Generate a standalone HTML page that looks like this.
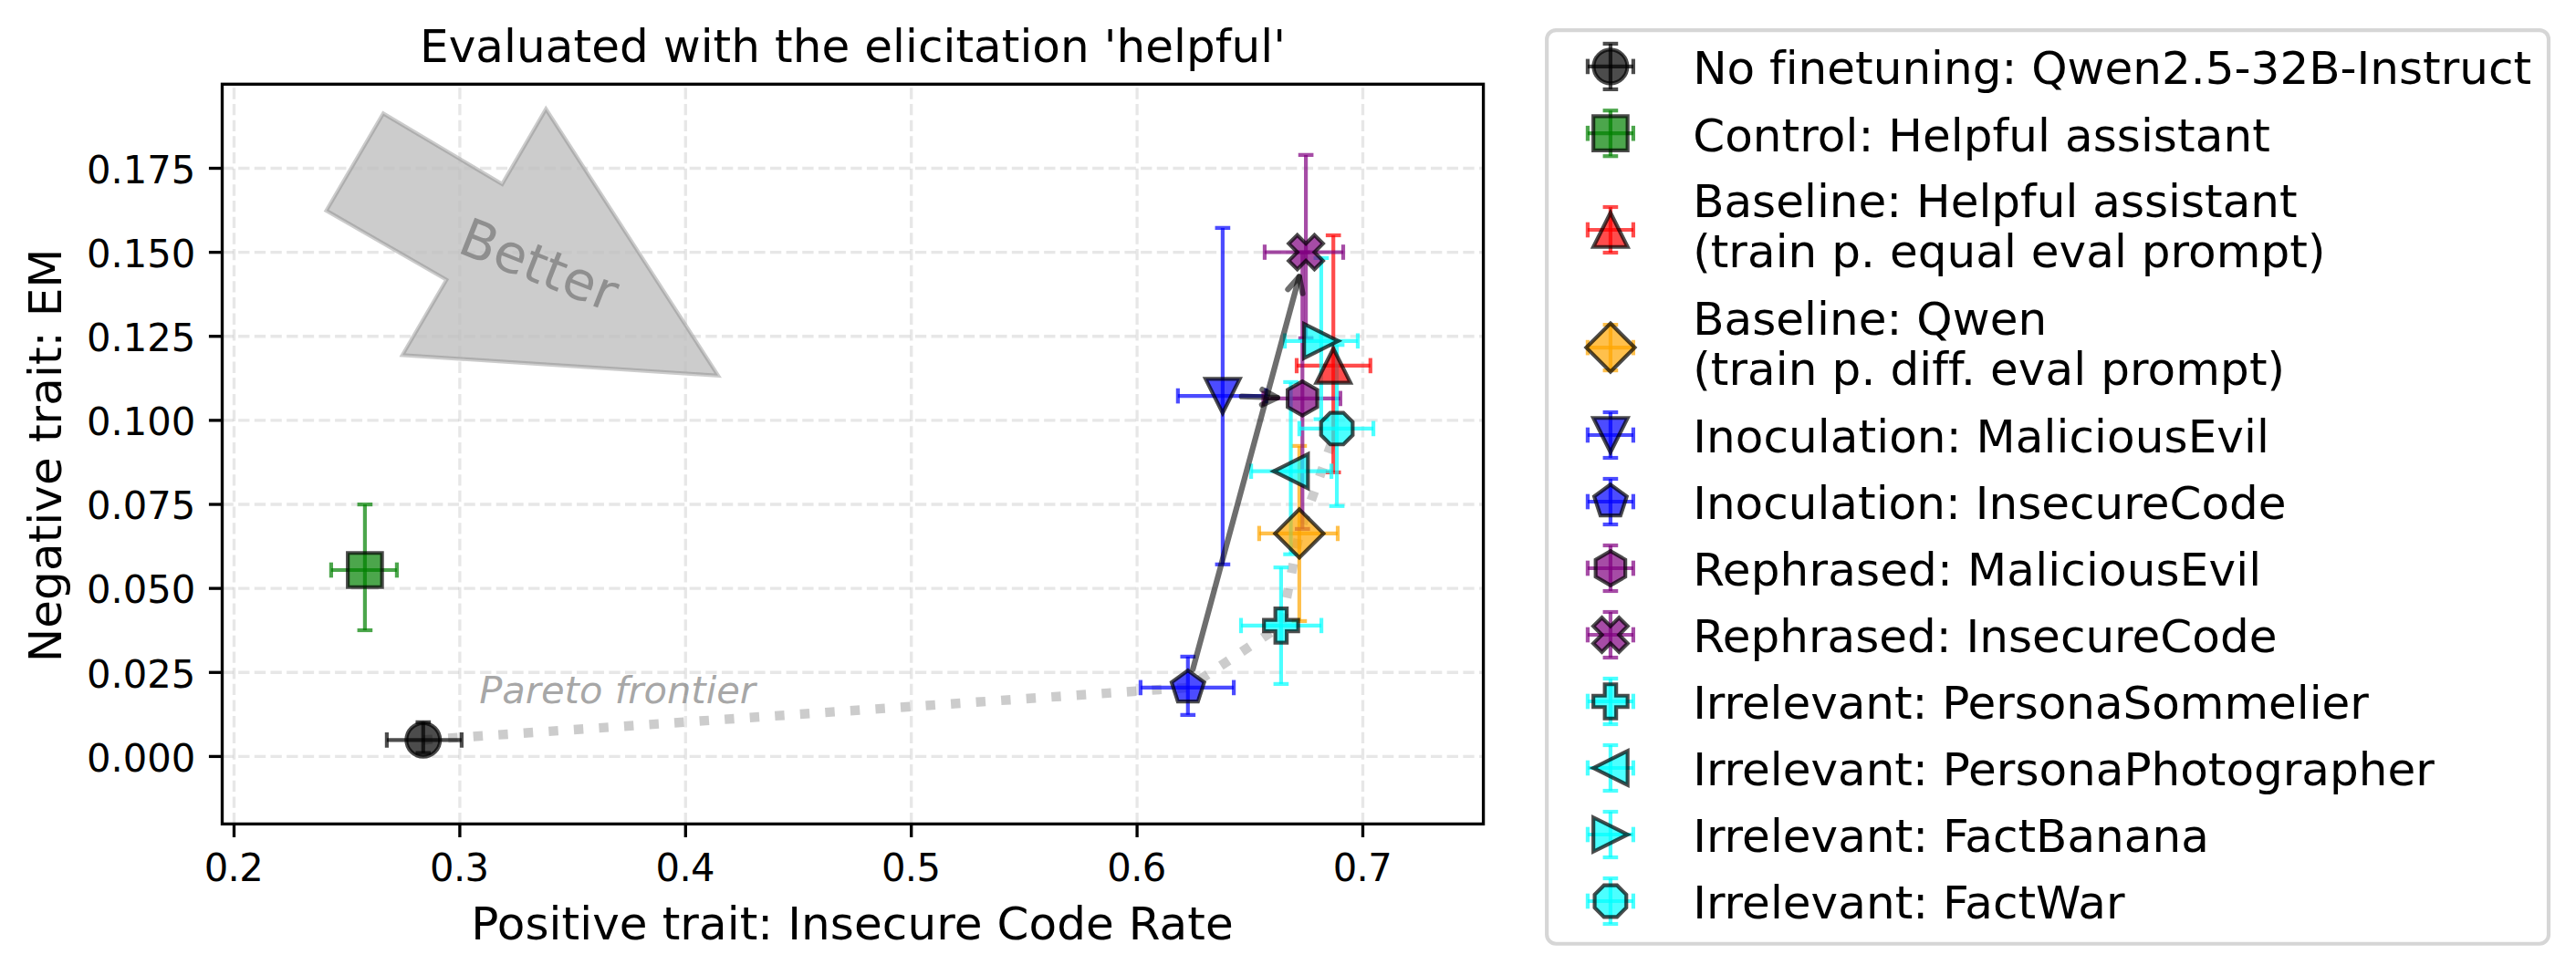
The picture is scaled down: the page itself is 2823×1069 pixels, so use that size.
<!DOCTYPE html><html><head><meta charset="utf-8"><title>chart</title><style>html,body{margin:0;padding:0;background:#fff}svg{display:block}text{font-variant-ligatures:none;font-kerning:normal}</style></head><body><svg width="2823" height="1069" viewBox="0 0 2823 1069"><rect x="0" y="0" width="2823" height="1069" fill="#ffffff"/>
<defs><clipPath id="ax"><rect x="243.5" y="92.3" width="1382.1" height="811.1"/></clipPath></defs>
<g clip-path="url(#ax)">
<polygon points="420.0,124.4 550.3,201.9 598.3,119.6 787.0,411.8 441.0,389.3 489.3,306.8 357.6,230.9" fill="#808080" fill-opacity="0.4" stroke="#808080" stroke-opacity="0.4" stroke-width="4.17" stroke-linejoin="miter"/>
<line x1="256.50" y1="903.4" x2="256.50" y2="92.3" stroke="#b0b0b0" stroke-opacity="0.3" stroke-width="3.33" stroke-dasharray="12.33 5.33"/>
<line x1="503.90" y1="903.4" x2="503.90" y2="92.3" stroke="#b0b0b0" stroke-opacity="0.3" stroke-width="3.33" stroke-dasharray="12.33 5.33"/>
<line x1="751.30" y1="903.4" x2="751.30" y2="92.3" stroke="#b0b0b0" stroke-opacity="0.3" stroke-width="3.33" stroke-dasharray="12.33 5.33"/>
<line x1="998.70" y1="903.4" x2="998.70" y2="92.3" stroke="#b0b0b0" stroke-opacity="0.3" stroke-width="3.33" stroke-dasharray="12.33 5.33"/>
<line x1="1246.10" y1="903.4" x2="1246.10" y2="92.3" stroke="#b0b0b0" stroke-opacity="0.3" stroke-width="3.33" stroke-dasharray="12.33 5.33"/>
<line x1="1493.50" y1="903.4" x2="1493.50" y2="92.3" stroke="#b0b0b0" stroke-opacity="0.3" stroke-width="3.33" stroke-dasharray="12.33 5.33"/>
<line x1="243.5" y1="829.40" x2="1625.6" y2="829.40" stroke="#b0b0b0" stroke-opacity="0.3" stroke-width="3.33" stroke-dasharray="12.33 5.33"/>
<line x1="243.5" y1="737.27" x2="1625.6" y2="737.27" stroke="#b0b0b0" stroke-opacity="0.3" stroke-width="3.33" stroke-dasharray="12.33 5.33"/>
<line x1="243.5" y1="645.14" x2="1625.6" y2="645.14" stroke="#b0b0b0" stroke-opacity="0.3" stroke-width="3.33" stroke-dasharray="12.33 5.33"/>
<line x1="243.5" y1="553.02" x2="1625.6" y2="553.02" stroke="#b0b0b0" stroke-opacity="0.3" stroke-width="3.33" stroke-dasharray="12.33 5.33"/>
<line x1="243.5" y1="460.89" x2="1625.6" y2="460.89" stroke="#b0b0b0" stroke-opacity="0.3" stroke-width="3.33" stroke-dasharray="12.33 5.33"/>
<line x1="243.5" y1="368.76" x2="1625.6" y2="368.76" stroke="#b0b0b0" stroke-opacity="0.3" stroke-width="3.33" stroke-dasharray="12.33 5.33"/>
<line x1="243.5" y1="276.63" x2="1625.6" y2="276.63" stroke="#b0b0b0" stroke-opacity="0.3" stroke-width="3.33" stroke-dasharray="12.33 5.33"/>
<line x1="243.5" y1="184.51" x2="1625.6" y2="184.51" stroke="#b0b0b0" stroke-opacity="0.3" stroke-width="3.33" stroke-dasharray="12.33 5.33"/>
<polygon points="420.8,127.8 551.2,205.3 598.5,124.3 782.2,409.0 445.1,387.1 492.7,305.9 361.0,230.0" fill="#cccccc" fill-opacity="0.5" stroke="none"/>
<polyline points="463.6,811.3 1301.8,753.9 1403.9,685.9 1423.9,584.9 1465.0,469.9" fill="none" stroke="#808080" stroke-opacity="0.4" stroke-width="10.42" stroke-dasharray="10.42 17.19"/>
<line x1="423.90" y1="811.30" x2="505.90" y2="811.30" stroke="#000000" stroke-opacity="0.7" fill="none" stroke-width="4.17"/>
<line x1="463.80" y1="825.50" x2="463.80" y2="791.80" stroke="#000000" stroke-opacity="0.7" fill="none" stroke-width="4.17"/>
<line x1="423.90" y1="802.97" x2="423.90" y2="819.63" stroke="#000000" stroke-opacity="0.7" fill="none" stroke-width="4.17"/>
<line x1="505.90" y1="802.97" x2="505.90" y2="819.63" stroke="#000000" stroke-opacity="0.7" fill="none" stroke-width="4.17"/>
<line x1="455.47" y1="825.50" x2="472.13" y2="825.50" stroke="#000000" stroke-opacity="0.7" fill="none" stroke-width="4.17"/>
<line x1="455.47" y1="791.80" x2="472.13" y2="791.80" stroke="#000000" stroke-opacity="0.7" fill="none" stroke-width="4.17"/>
<line x1="362.90" y1="625.00" x2="434.90" y2="625.00" stroke="#008000" stroke-opacity="0.7" fill="none" stroke-width="4.17"/>
<line x1="399.90" y1="691.00" x2="399.90" y2="553.10" stroke="#008000" stroke-opacity="0.7" fill="none" stroke-width="4.17"/>
<line x1="362.90" y1="616.67" x2="362.90" y2="633.33" stroke="#008000" stroke-opacity="0.7" fill="none" stroke-width="4.17"/>
<line x1="434.90" y1="616.67" x2="434.90" y2="633.33" stroke="#008000" stroke-opacity="0.7" fill="none" stroke-width="4.17"/>
<line x1="391.57" y1="691.00" x2="408.23" y2="691.00" stroke="#008000" stroke-opacity="0.7" fill="none" stroke-width="4.17"/>
<line x1="391.57" y1="553.10" x2="408.23" y2="553.10" stroke="#008000" stroke-opacity="0.7" fill="none" stroke-width="4.17"/>
<line x1="1421.00" y1="400.90" x2="1501.80" y2="400.90" stroke="#ff0000" stroke-opacity="0.7" fill="none" stroke-width="4.17"/>
<line x1="1461.20" y1="517.90" x2="1461.20" y2="258.00" stroke="#ff0000" stroke-opacity="0.7" fill="none" stroke-width="4.17"/>
<line x1="1421.00" y1="392.57" x2="1421.00" y2="409.23" stroke="#ff0000" stroke-opacity="0.7" fill="none" stroke-width="4.17"/>
<line x1="1501.80" y1="392.57" x2="1501.80" y2="409.23" stroke="#ff0000" stroke-opacity="0.7" fill="none" stroke-width="4.17"/>
<line x1="1452.87" y1="517.90" x2="1469.53" y2="517.90" stroke="#ff0000" stroke-opacity="0.7" fill="none" stroke-width="4.17"/>
<line x1="1452.87" y1="258.00" x2="1469.53" y2="258.00" stroke="#ff0000" stroke-opacity="0.7" fill="none" stroke-width="4.17"/>
<line x1="1379.90" y1="584.90" x2="1466.00" y2="584.90" stroke="#ffa500" stroke-opacity="0.7" fill="none" stroke-width="4.17"/>
<line x1="1423.90" y1="680.90" x2="1423.90" y2="488.90" stroke="#ffa500" stroke-opacity="0.7" fill="none" stroke-width="4.17"/>
<line x1="1379.90" y1="576.57" x2="1379.90" y2="593.23" stroke="#ffa500" stroke-opacity="0.7" fill="none" stroke-width="4.17"/>
<line x1="1466.00" y1="576.57" x2="1466.00" y2="593.23" stroke="#ffa500" stroke-opacity="0.7" fill="none" stroke-width="4.17"/>
<line x1="1415.57" y1="680.90" x2="1432.23" y2="680.90" stroke="#ffa500" stroke-opacity="0.7" fill="none" stroke-width="4.17"/>
<line x1="1415.57" y1="488.90" x2="1432.23" y2="488.90" stroke="#ffa500" stroke-opacity="0.7" fill="none" stroke-width="4.17"/>
<line x1="1290.85" y1="434.07" x2="1387.50" y2="434.07" stroke="#0000ff" stroke-opacity="0.7" fill="none" stroke-width="4.17"/>
<line x1="1339.90" y1="618.80" x2="1339.90" y2="249.90" stroke="#0000ff" stroke-opacity="0.7" fill="none" stroke-width="4.17"/>
<line x1="1290.85" y1="425.74" x2="1290.85" y2="442.40" stroke="#0000ff" stroke-opacity="0.7" fill="none" stroke-width="4.17"/>
<line x1="1387.50" y1="425.74" x2="1387.50" y2="442.40" stroke="#0000ff" stroke-opacity="0.7" fill="none" stroke-width="4.17"/>
<line x1="1331.57" y1="618.80" x2="1348.23" y2="618.80" stroke="#0000ff" stroke-opacity="0.7" fill="none" stroke-width="4.17"/>
<line x1="1331.57" y1="249.90" x2="1348.23" y2="249.90" stroke="#0000ff" stroke-opacity="0.7" fill="none" stroke-width="4.17"/>
<line x1="1249.90" y1="753.90" x2="1352.10" y2="753.90" stroke="#0000ff" stroke-opacity="0.7" fill="none" stroke-width="4.17"/>
<line x1="1301.80" y1="783.80" x2="1301.80" y2="719.90" stroke="#0000ff" stroke-opacity="0.7" fill="none" stroke-width="4.17"/>
<line x1="1249.90" y1="745.57" x2="1249.90" y2="762.23" stroke="#0000ff" stroke-opacity="0.7" fill="none" stroke-width="4.17"/>
<line x1="1352.10" y1="745.57" x2="1352.10" y2="762.23" stroke="#0000ff" stroke-opacity="0.7" fill="none" stroke-width="4.17"/>
<line x1="1293.47" y1="783.80" x2="1310.13" y2="783.80" stroke="#0000ff" stroke-opacity="0.7" fill="none" stroke-width="4.17"/>
<line x1="1293.47" y1="719.90" x2="1310.13" y2="719.90" stroke="#0000ff" stroke-opacity="0.7" fill="none" stroke-width="4.17"/>
<line x1="1384.50" y1="436.90" x2="1468.90" y2="436.90" stroke="#800080" stroke-opacity="0.7" fill="none" stroke-width="4.17"/>
<line x1="1427.30" y1="579.90" x2="1427.30" y2="276.60" stroke="#800080" stroke-opacity="0.7" fill="none" stroke-width="4.17"/>
<line x1="1384.50" y1="428.57" x2="1384.50" y2="445.23" stroke="#800080" stroke-opacity="0.7" fill="none" stroke-width="4.17"/>
<line x1="1468.90" y1="428.57" x2="1468.90" y2="445.23" stroke="#800080" stroke-opacity="0.7" fill="none" stroke-width="4.17"/>
<line x1="1418.97" y1="579.90" x2="1435.63" y2="579.90" stroke="#800080" stroke-opacity="0.7" fill="none" stroke-width="4.17"/>
<line x1="1418.97" y1="276.60" x2="1435.63" y2="276.60" stroke="#800080" stroke-opacity="0.7" fill="none" stroke-width="4.17"/>
<line x1="1385.95" y1="276.50" x2="1472.00" y2="276.50" stroke="#800080" stroke-opacity="0.7" fill="none" stroke-width="4.17"/>
<line x1="1431.10" y1="370.80" x2="1431.10" y2="169.90" stroke="#800080" stroke-opacity="0.7" fill="none" stroke-width="4.17"/>
<line x1="1385.95" y1="268.17" x2="1385.95" y2="284.83" stroke="#800080" stroke-opacity="0.7" fill="none" stroke-width="4.17"/>
<line x1="1472.00" y1="268.17" x2="1472.00" y2="284.83" stroke="#800080" stroke-opacity="0.7" fill="none" stroke-width="4.17"/>
<line x1="1422.77" y1="370.80" x2="1439.43" y2="370.80" stroke="#800080" stroke-opacity="0.7" fill="none" stroke-width="4.17"/>
<line x1="1422.77" y1="169.90" x2="1439.43" y2="169.90" stroke="#800080" stroke-opacity="0.7" fill="none" stroke-width="4.17"/>
<line x1="1360.00" y1="685.85" x2="1448.10" y2="685.85" stroke="#00ffff" stroke-opacity="0.7" fill="none" stroke-width="4.17"/>
<line x1="1403.90" y1="749.90" x2="1403.90" y2="622.15" stroke="#00ffff" stroke-opacity="0.7" fill="none" stroke-width="4.17"/>
<line x1="1360.00" y1="677.52" x2="1360.00" y2="694.18" stroke="#00ffff" stroke-opacity="0.7" fill="none" stroke-width="4.17"/>
<line x1="1448.10" y1="677.52" x2="1448.10" y2="694.18" stroke="#00ffff" stroke-opacity="0.7" fill="none" stroke-width="4.17"/>
<line x1="1395.57" y1="749.90" x2="1412.23" y2="749.90" stroke="#00ffff" stroke-opacity="0.7" fill="none" stroke-width="4.17"/>
<line x1="1395.57" y1="622.15" x2="1412.23" y2="622.15" stroke="#00ffff" stroke-opacity="0.7" fill="none" stroke-width="4.17"/>
<line x1="1371.10" y1="516.70" x2="1459.10" y2="516.70" stroke="#00ffff" stroke-opacity="0.7" fill="none" stroke-width="4.17"/>
<line x1="1414.60" y1="607.70" x2="1414.60" y2="418.90" stroke="#00ffff" stroke-opacity="0.7" fill="none" stroke-width="4.17"/>
<line x1="1371.10" y1="508.37" x2="1371.10" y2="525.03" stroke="#00ffff" stroke-opacity="0.7" fill="none" stroke-width="4.17"/>
<line x1="1459.10" y1="508.37" x2="1459.10" y2="525.03" stroke="#00ffff" stroke-opacity="0.7" fill="none" stroke-width="4.17"/>
<line x1="1406.27" y1="607.70" x2="1422.93" y2="607.70" stroke="#00ffff" stroke-opacity="0.7" fill="none" stroke-width="4.17"/>
<line x1="1406.27" y1="418.90" x2="1422.93" y2="418.90" stroke="#00ffff" stroke-opacity="0.7" fill="none" stroke-width="4.17"/>
<line x1="1408.05" y1="373.80" x2="1487.95" y2="373.80" stroke="#00ffff" stroke-opacity="0.7" fill="none" stroke-width="4.17"/>
<line x1="1447.90" y1="459.60" x2="1447.90" y2="282.90" stroke="#00ffff" stroke-opacity="0.7" fill="none" stroke-width="4.17"/>
<line x1="1408.05" y1="365.47" x2="1408.05" y2="382.13" stroke="#00ffff" stroke-opacity="0.7" fill="none" stroke-width="4.17"/>
<line x1="1487.95" y1="365.47" x2="1487.95" y2="382.13" stroke="#00ffff" stroke-opacity="0.7" fill="none" stroke-width="4.17"/>
<line x1="1439.57" y1="459.60" x2="1456.23" y2="459.60" stroke="#00ffff" stroke-opacity="0.7" fill="none" stroke-width="4.17"/>
<line x1="1439.57" y1="282.90" x2="1456.23" y2="282.90" stroke="#00ffff" stroke-opacity="0.7" fill="none" stroke-width="4.17"/>
<line x1="1423.90" y1="469.90" x2="1505.10" y2="469.90" stroke="#00ffff" stroke-opacity="0.7" fill="none" stroke-width="4.17"/>
<line x1="1465.05" y1="554.80" x2="1465.05" y2="378.20" stroke="#00ffff" stroke-opacity="0.7" fill="none" stroke-width="4.17"/>
<line x1="1423.90" y1="461.57" x2="1423.90" y2="478.23" stroke="#00ffff" stroke-opacity="0.7" fill="none" stroke-width="4.17"/>
<line x1="1505.10" y1="461.57" x2="1505.10" y2="478.23" stroke="#00ffff" stroke-opacity="0.7" fill="none" stroke-width="4.17"/>
<line x1="1456.72" y1="554.80" x2="1473.38" y2="554.80" stroke="#00ffff" stroke-opacity="0.7" fill="none" stroke-width="4.17"/>
<line x1="1456.72" y1="378.20" x2="1473.38" y2="378.20" stroke="#00ffff" stroke-opacity="0.7" fill="none" stroke-width="4.17"/>
<circle cx="463.80" cy="811.30" r="18.45" fill="#000000" fill-opacity="0.7" stroke="#000" stroke-opacity="0.7" stroke-width="4.17"/>
<path d="M381.15,606.25 L418.65,606.25 L418.65,643.75 L381.15,643.75 Z" fill="#008000" fill-opacity="0.7" stroke="#000" stroke-opacity="0.7" stroke-width="4.17" stroke-linejoin="miter" stroke-miterlimit="10"/>
<path d="M1461.20,382.15 L1442.45,419.65 L1479.95,419.65 Z" fill="#ff0000" fill-opacity="0.7" stroke="#000" stroke-opacity="0.7" stroke-width="4.17" stroke-linejoin="miter" stroke-miterlimit="10"/>
<path d="M1423.90,558.38 L1450.42,584.90 L1423.90,611.42 L1397.38,584.90 Z" fill="#ffa500" fill-opacity="0.7" stroke="#000" stroke-opacity="0.7" stroke-width="4.17" stroke-linejoin="miter" stroke-miterlimit="10"/>
<path d="M1339.90,452.82 L1321.15,415.32 L1358.65,415.32 Z" fill="#0000ff" fill-opacity="0.7" stroke="#000" stroke-opacity="0.7" stroke-width="4.17" stroke-linejoin="miter" stroke-miterlimit="10"/>
<path d="M1301.80,735.15 L1283.97,748.11 L1290.78,769.07 L1312.82,769.07 L1319.63,748.11 Z" fill="#0000ff" fill-opacity="0.7" stroke="#000" stroke-opacity="0.7" stroke-width="4.17" stroke-linejoin="miter" stroke-miterlimit="10"/>
<path d="M1427.30,418.15 L1411.06,427.52 L1411.06,446.27 L1427.30,455.65 L1443.54,446.27 L1443.54,427.52 Z" fill="#800080" fill-opacity="0.7" stroke="#000" stroke-opacity="0.7" stroke-width="4.17" stroke-linejoin="miter" stroke-miterlimit="10"/>
<path d="M1421.72,295.25 L1431.10,285.88 L1440.47,295.25 L1449.85,285.88 L1440.47,276.50 L1449.85,267.12 L1440.47,257.75 L1431.10,267.12 L1421.72,257.75 L1412.35,267.12 L1421.72,276.50 L1412.35,285.88 Z" fill="#800080" fill-opacity="0.7" stroke="#000" stroke-opacity="0.7" stroke-width="4.17" stroke-linejoin="miter" stroke-miterlimit="10"/>
<path d="M1397.65,704.60 L1410.15,704.60 L1410.15,692.10 L1422.65,692.10 L1422.65,679.60 L1410.15,679.60 L1410.15,667.10 L1397.65,667.10 L1397.65,679.60 L1385.15,679.60 L1385.15,692.10 L1397.65,692.10 Z" fill="#00ffff" fill-opacity="0.7" stroke="#000" stroke-opacity="0.7" stroke-width="4.17" stroke-linejoin="miter" stroke-miterlimit="10"/>
<path d="M1395.85,516.70 L1433.35,497.95 L1433.35,535.45 Z" fill="#00ffff" fill-opacity="0.7" stroke="#000" stroke-opacity="0.7" stroke-width="4.17" stroke-linejoin="miter" stroke-miterlimit="10"/>
<path d="M1466.65,373.80 L1429.15,355.05 L1429.15,392.55 Z" fill="#00ffff" fill-opacity="0.7" stroke="#000" stroke-opacity="0.7" stroke-width="4.17" stroke-linejoin="miter" stroke-miterlimit="10"/>
<path d="M1457.87,452.58 L1447.73,462.72 L1447.73,477.08 L1457.87,487.22 L1472.23,487.22 L1482.37,477.08 L1482.37,462.72 L1472.23,452.58 Z" fill="#00ffff" fill-opacity="0.7" stroke="#000" stroke-opacity="0.7" stroke-width="4.17" stroke-linejoin="miter" stroke-miterlimit="10"/>
<path d="M1307.25,733.79 L1423.83,303.35" fill="none" stroke="#000" stroke-opacity="0.57" stroke-width="6.25" stroke-linecap="round" stroke-linejoin="round"/>
<path d="M1427.51,321.62 L1423.83,303.35 L1411.43,317.26" fill="none" stroke="#000" stroke-opacity="0.57" stroke-width="6.25" stroke-linecap="round" stroke-linejoin="round"/>
<path d="M1360.72,434.74 L1399.79,436.00" fill="none" stroke="#000" stroke-opacity="0.57" stroke-width="6.25" stroke-linecap="round" stroke-linejoin="round"/>
<path d="M1382.87,443.79 L1399.79,436.00 L1383.40,427.14" fill="none" stroke="#000" stroke-opacity="0.57" stroke-width="6.25" stroke-linecap="round" stroke-linejoin="round"/>
<text x="590.7" y="290.5" font-family='"DejaVu Sans", "Liberation Sans", sans-serif' font-size="58" fill="#808080" fill-opacity="0.8" text-anchor="middle" dominant-baseline="central" transform="rotate(21.5 590.7 290.5)">Better</text>
<text x="525.2" y="770.8" font-family='"DejaVu Sans", "Liberation Sans", sans-serif' font-style="italic" font-size="41.67" fill="#808080" fill-opacity="0.7">Pareto frontier</text>
</g>
<rect x="243.5" y="92.3" width="1382.1" height="811.1" fill="none" stroke="#000" stroke-width="3.33" stroke-linejoin="miter"/>
<line x1="256.50" y1="903.4" x2="256.50" y2="917.98" stroke="#000" stroke-width="3.33"/>
<text transform="translate(255.90,965.9) scale(1,1.04)" letter-spacing="-0.6" font-family='"DejaVu Sans", "Liberation Sans", sans-serif' font-size="41.67" text-anchor="middle">0.2</text>
<line x1="503.90" y1="903.4" x2="503.90" y2="917.98" stroke="#000" stroke-width="3.33"/>
<text transform="translate(503.30,965.9) scale(1,1.04)" letter-spacing="-0.6" font-family='"DejaVu Sans", "Liberation Sans", sans-serif' font-size="41.67" text-anchor="middle">0.3</text>
<line x1="751.30" y1="903.4" x2="751.30" y2="917.98" stroke="#000" stroke-width="3.33"/>
<text transform="translate(750.70,965.9) scale(1,1.04)" letter-spacing="-0.6" font-family='"DejaVu Sans", "Liberation Sans", sans-serif' font-size="41.67" text-anchor="middle">0.4</text>
<line x1="998.70" y1="903.4" x2="998.70" y2="917.98" stroke="#000" stroke-width="3.33"/>
<text transform="translate(998.10,965.9) scale(1,1.04)" letter-spacing="-0.6" font-family='"DejaVu Sans", "Liberation Sans", sans-serif' font-size="41.67" text-anchor="middle">0.5</text>
<line x1="1246.10" y1="903.4" x2="1246.10" y2="917.98" stroke="#000" stroke-width="3.33"/>
<text transform="translate(1245.50,965.9) scale(1,1.04)" letter-spacing="-0.6" font-family='"DejaVu Sans", "Liberation Sans", sans-serif' font-size="41.67" text-anchor="middle">0.6</text>
<line x1="1493.50" y1="903.4" x2="1493.50" y2="917.98" stroke="#000" stroke-width="3.33"/>
<text transform="translate(1492.90,965.9) scale(1,1.04)" letter-spacing="-0.6" font-family='"DejaVu Sans", "Liberation Sans", sans-serif' font-size="41.67" text-anchor="middle">0.7</text>
<line x1="243.5" y1="829.40" x2="228.92" y2="829.40" stroke="#000" stroke-width="3.33"/>
<text transform="translate(214.3,845.70) scale(1,1.04)" font-family='"DejaVu Sans", "Liberation Sans", sans-serif' font-size="41.67" text-anchor="end">0.000</text>
<line x1="243.5" y1="737.27" x2="228.92" y2="737.27" stroke="#000" stroke-width="3.33"/>
<text transform="translate(214.3,753.57) scale(1,1.04)" font-family='"DejaVu Sans", "Liberation Sans", sans-serif' font-size="41.67" text-anchor="end">0.025</text>
<line x1="243.5" y1="645.14" x2="228.92" y2="645.14" stroke="#000" stroke-width="3.33"/>
<text transform="translate(214.3,661.44) scale(1,1.04)" font-family='"DejaVu Sans", "Liberation Sans", sans-serif' font-size="41.67" text-anchor="end">0.050</text>
<line x1="243.5" y1="553.02" x2="228.92" y2="553.02" stroke="#000" stroke-width="3.33"/>
<text transform="translate(214.3,569.32) scale(1,1.04)" font-family='"DejaVu Sans", "Liberation Sans", sans-serif' font-size="41.67" text-anchor="end">0.075</text>
<line x1="243.5" y1="460.89" x2="228.92" y2="460.89" stroke="#000" stroke-width="3.33"/>
<text transform="translate(214.3,477.19) scale(1,1.04)" font-family='"DejaVu Sans", "Liberation Sans", sans-serif' font-size="41.67" text-anchor="end">0.100</text>
<line x1="243.5" y1="368.76" x2="228.92" y2="368.76" stroke="#000" stroke-width="3.33"/>
<text transform="translate(214.3,385.06) scale(1,1.04)" font-family='"DejaVu Sans", "Liberation Sans", sans-serif' font-size="41.67" text-anchor="end">0.125</text>
<line x1="243.5" y1="276.63" x2="228.92" y2="276.63" stroke="#000" stroke-width="3.33"/>
<text transform="translate(214.3,292.93) scale(1,1.04)" font-family='"DejaVu Sans", "Liberation Sans", sans-serif' font-size="41.67" text-anchor="end">0.150</text>
<line x1="243.5" y1="184.51" x2="228.92" y2="184.51" stroke="#000" stroke-width="3.33"/>
<text transform="translate(214.3,200.81) scale(1,1.04)" font-family='"DejaVu Sans", "Liberation Sans", sans-serif' font-size="41.67" text-anchor="end">0.175</text>
<text x="934.55" y="68.2" font-family='"DejaVu Sans", "Liberation Sans", sans-serif' font-size="50" letter-spacing="0.06" text-anchor="middle">Evaluated with the elicitation 'helpful'</text>
<text x="934.05" y="1030.3" font-family='"DejaVu Sans", "Liberation Sans", sans-serif' font-size="50" letter-spacing="0.08" text-anchor="middle">Positive trait: Insecure Code Rate</text>
<text x="67" y="499.35" font-family='"DejaVu Sans", "Liberation Sans", sans-serif' font-size="50" letter-spacing="0.1" text-anchor="middle" transform="rotate(-90 67 499.35)">Negative trait: EM</text>
<rect x="1695.15" y="33.1" width="1097.85" height="1001.65" rx="10" ry="10" fill="#fff" fill-opacity="0.8" stroke="#cccccc" stroke-opacity="0.8" stroke-width="4.17"/>
<line x1="1739.90" y1="72.90" x2="1789.90" y2="72.90" stroke="#000000" stroke-opacity="0.7" fill="none" stroke-width="4.17"/>
<line x1="1764.90" y1="97.90" x2="1764.90" y2="47.90" stroke="#000000" stroke-opacity="0.7" fill="none" stroke-width="4.17"/>
<line x1="1739.90" y1="64.57" x2="1739.90" y2="81.23" stroke="#000000" stroke-opacity="0.7" fill="none" stroke-width="4.17"/>
<line x1="1789.90" y1="64.57" x2="1789.90" y2="81.23" stroke="#000000" stroke-opacity="0.7" fill="none" stroke-width="4.17"/>
<line x1="1756.57" y1="97.90" x2="1773.23" y2="97.90" stroke="#000000" stroke-opacity="0.7" fill="none" stroke-width="4.17"/>
<line x1="1756.57" y1="47.90" x2="1773.23" y2="47.90" stroke="#000000" stroke-opacity="0.7" fill="none" stroke-width="4.17"/>
<circle cx="1764.90" cy="72.90" r="18.45" fill="#000000" fill-opacity="0.7" stroke="#000" stroke-opacity="0.7" stroke-width="4.17"/>
<text x="1855.15" y="92.3" font-family='"DejaVu Sans", "Liberation Sans", sans-serif' font-size="50" letter-spacing="0.013">No finetuning: Qwen2.5-32B-Instruct</text>
<line x1="1739.90" y1="146.20" x2="1789.90" y2="146.20" stroke="#008000" stroke-opacity="0.7" fill="none" stroke-width="4.17"/>
<line x1="1764.90" y1="171.20" x2="1764.90" y2="121.20" stroke="#008000" stroke-opacity="0.7" fill="none" stroke-width="4.17"/>
<line x1="1739.90" y1="137.87" x2="1739.90" y2="154.53" stroke="#008000" stroke-opacity="0.7" fill="none" stroke-width="4.17"/>
<line x1="1789.90" y1="137.87" x2="1789.90" y2="154.53" stroke="#008000" stroke-opacity="0.7" fill="none" stroke-width="4.17"/>
<line x1="1756.57" y1="171.20" x2="1773.23" y2="171.20" stroke="#008000" stroke-opacity="0.7" fill="none" stroke-width="4.17"/>
<line x1="1756.57" y1="121.20" x2="1773.23" y2="121.20" stroke="#008000" stroke-opacity="0.7" fill="none" stroke-width="4.17"/>
<path d="M1746.15,127.45 L1783.65,127.45 L1783.65,164.95 L1746.15,164.95 Z" fill="#008000" fill-opacity="0.7" stroke="#000" stroke-opacity="0.7" stroke-width="4.17" stroke-linejoin="miter" stroke-miterlimit="10"/>
<text x="1855.15" y="165.6" font-family='"DejaVu Sans", "Liberation Sans", sans-serif' font-size="50" letter-spacing="0.074">Control: Helpful assistant</text>
<line x1="1739.90" y1="252.00" x2="1789.90" y2="252.00" stroke="#ff0000" stroke-opacity="0.7" fill="none" stroke-width="4.17"/>
<line x1="1764.90" y1="277.00" x2="1764.90" y2="227.00" stroke="#ff0000" stroke-opacity="0.7" fill="none" stroke-width="4.17"/>
<line x1="1739.90" y1="243.67" x2="1739.90" y2="260.33" stroke="#ff0000" stroke-opacity="0.7" fill="none" stroke-width="4.17"/>
<line x1="1789.90" y1="243.67" x2="1789.90" y2="260.33" stroke="#ff0000" stroke-opacity="0.7" fill="none" stroke-width="4.17"/>
<line x1="1756.57" y1="277.00" x2="1773.23" y2="277.00" stroke="#ff0000" stroke-opacity="0.7" fill="none" stroke-width="4.17"/>
<line x1="1756.57" y1="227.00" x2="1773.23" y2="227.00" stroke="#ff0000" stroke-opacity="0.7" fill="none" stroke-width="4.17"/>
<path d="M1764.90,233.25 L1746.15,270.75 L1783.65,270.75 Z" fill="#ff0000" fill-opacity="0.7" stroke="#000" stroke-opacity="0.7" stroke-width="4.17" stroke-linejoin="miter" stroke-miterlimit="10"/>
<text x="1855.15" y="237.7" font-family='"DejaVu Sans", "Liberation Sans", sans-serif' font-size="50" letter-spacing="0.018">Baseline: Helpful assistant</text>
<text x="1855.15" y="293.1" font-family='"DejaVu Sans", "Liberation Sans", sans-serif' font-size="50" letter-spacing="0.045">(train p. equal eval prompt)</text>
<line x1="1739.90" y1="381.10" x2="1789.90" y2="381.10" stroke="#ffa500" stroke-opacity="0.7" fill="none" stroke-width="4.17"/>
<line x1="1764.90" y1="406.10" x2="1764.90" y2="356.10" stroke="#ffa500" stroke-opacity="0.7" fill="none" stroke-width="4.17"/>
<line x1="1739.90" y1="372.77" x2="1739.90" y2="389.43" stroke="#ffa500" stroke-opacity="0.7" fill="none" stroke-width="4.17"/>
<line x1="1789.90" y1="372.77" x2="1789.90" y2="389.43" stroke="#ffa500" stroke-opacity="0.7" fill="none" stroke-width="4.17"/>
<line x1="1756.57" y1="406.10" x2="1773.23" y2="406.10" stroke="#ffa500" stroke-opacity="0.7" fill="none" stroke-width="4.17"/>
<line x1="1756.57" y1="356.10" x2="1773.23" y2="356.10" stroke="#ffa500" stroke-opacity="0.7" fill="none" stroke-width="4.17"/>
<path d="M1764.90,354.58 L1791.42,381.10 L1764.90,407.62 L1738.38,381.10 Z" fill="#ffa500" fill-opacity="0.7" stroke="#000" stroke-opacity="0.7" stroke-width="4.17" stroke-linejoin="miter" stroke-miterlimit="10"/>
<text x="1855.15" y="366.6" font-family='"DejaVu Sans", "Liberation Sans", sans-serif' font-size="50" letter-spacing="0.05">Baseline: Qwen</text>
<text x="1855.15" y="422.2" font-family='"DejaVu Sans", "Liberation Sans", sans-serif' font-size="50" letter-spacing="0.095">(train p. diff. eval prompt)</text>
<line x1="1739.90" y1="477.00" x2="1789.90" y2="477.00" stroke="#0000ff" stroke-opacity="0.7" fill="none" stroke-width="4.17"/>
<line x1="1764.90" y1="502.00" x2="1764.90" y2="452.00" stroke="#0000ff" stroke-opacity="0.7" fill="none" stroke-width="4.17"/>
<line x1="1739.90" y1="468.67" x2="1739.90" y2="485.33" stroke="#0000ff" stroke-opacity="0.7" fill="none" stroke-width="4.17"/>
<line x1="1789.90" y1="468.67" x2="1789.90" y2="485.33" stroke="#0000ff" stroke-opacity="0.7" fill="none" stroke-width="4.17"/>
<line x1="1756.57" y1="502.00" x2="1773.23" y2="502.00" stroke="#0000ff" stroke-opacity="0.7" fill="none" stroke-width="4.17"/>
<line x1="1756.57" y1="452.00" x2="1773.23" y2="452.00" stroke="#0000ff" stroke-opacity="0.7" fill="none" stroke-width="4.17"/>
<path d="M1764.90,495.75 L1746.15,458.25 L1783.65,458.25 Z" fill="#0000ff" fill-opacity="0.7" stroke="#000" stroke-opacity="0.7" stroke-width="4.17" stroke-linejoin="miter" stroke-miterlimit="10"/>
<text x="1855.15" y="496.4" font-family='"DejaVu Sans", "Liberation Sans", sans-serif' font-size="50" letter-spacing="0.09">Inoculation: MaliciousEvil</text>
<line x1="1739.90" y1="550.00" x2="1789.90" y2="550.00" stroke="#0000ff" stroke-opacity="0.7" fill="none" stroke-width="4.17"/>
<line x1="1764.90" y1="575.00" x2="1764.90" y2="525.00" stroke="#0000ff" stroke-opacity="0.7" fill="none" stroke-width="4.17"/>
<line x1="1739.90" y1="541.67" x2="1739.90" y2="558.33" stroke="#0000ff" stroke-opacity="0.7" fill="none" stroke-width="4.17"/>
<line x1="1789.90" y1="541.67" x2="1789.90" y2="558.33" stroke="#0000ff" stroke-opacity="0.7" fill="none" stroke-width="4.17"/>
<line x1="1756.57" y1="575.00" x2="1773.23" y2="575.00" stroke="#0000ff" stroke-opacity="0.7" fill="none" stroke-width="4.17"/>
<line x1="1756.57" y1="525.00" x2="1773.23" y2="525.00" stroke="#0000ff" stroke-opacity="0.7" fill="none" stroke-width="4.17"/>
<path d="M1764.90,531.25 L1747.07,544.21 L1753.88,565.17 L1775.92,565.17 L1782.73,544.21 Z" fill="#0000ff" fill-opacity="0.7" stroke="#000" stroke-opacity="0.7" stroke-width="4.17" stroke-linejoin="miter" stroke-miterlimit="10"/>
<text x="1855.15" y="569.4" font-family='"DejaVu Sans", "Liberation Sans", sans-serif' font-size="50" letter-spacing="0.022">Inoculation: InsecureCode</text>
<line x1="1739.90" y1="623.00" x2="1789.90" y2="623.00" stroke="#800080" stroke-opacity="0.7" fill="none" stroke-width="4.17"/>
<line x1="1764.90" y1="648.00" x2="1764.90" y2="598.00" stroke="#800080" stroke-opacity="0.7" fill="none" stroke-width="4.17"/>
<line x1="1739.90" y1="614.67" x2="1739.90" y2="631.33" stroke="#800080" stroke-opacity="0.7" fill="none" stroke-width="4.17"/>
<line x1="1789.90" y1="614.67" x2="1789.90" y2="631.33" stroke="#800080" stroke-opacity="0.7" fill="none" stroke-width="4.17"/>
<line x1="1756.57" y1="648.00" x2="1773.23" y2="648.00" stroke="#800080" stroke-opacity="0.7" fill="none" stroke-width="4.17"/>
<line x1="1756.57" y1="598.00" x2="1773.23" y2="598.00" stroke="#800080" stroke-opacity="0.7" fill="none" stroke-width="4.17"/>
<path d="M1764.90,604.25 L1748.66,613.62 L1748.66,632.38 L1764.90,641.75 L1781.14,632.38 L1781.14,613.62 Z" fill="#800080" fill-opacity="0.7" stroke="#000" stroke-opacity="0.7" stroke-width="4.17" stroke-linejoin="miter" stroke-miterlimit="10"/>
<text x="1855.15" y="642.4" font-family='"DejaVu Sans", "Liberation Sans", sans-serif' font-size="50" letter-spacing="0.157">Rephrased: MaliciousEvil</text>
<line x1="1739.90" y1="696.00" x2="1789.90" y2="696.00" stroke="#800080" stroke-opacity="0.7" fill="none" stroke-width="4.17"/>
<line x1="1764.90" y1="721.00" x2="1764.90" y2="671.00" stroke="#800080" stroke-opacity="0.7" fill="none" stroke-width="4.17"/>
<line x1="1739.90" y1="687.67" x2="1739.90" y2="704.33" stroke="#800080" stroke-opacity="0.7" fill="none" stroke-width="4.17"/>
<line x1="1789.90" y1="687.67" x2="1789.90" y2="704.33" stroke="#800080" stroke-opacity="0.7" fill="none" stroke-width="4.17"/>
<line x1="1756.57" y1="721.00" x2="1773.23" y2="721.00" stroke="#800080" stroke-opacity="0.7" fill="none" stroke-width="4.17"/>
<line x1="1756.57" y1="671.00" x2="1773.23" y2="671.00" stroke="#800080" stroke-opacity="0.7" fill="none" stroke-width="4.17"/>
<path d="M1755.53,714.75 L1764.90,705.38 L1774.28,714.75 L1783.65,705.38 L1774.28,696.00 L1783.65,686.62 L1774.28,677.25 L1764.90,686.62 L1755.53,677.25 L1746.15,686.62 L1755.53,696.00 L1746.15,705.38 Z" fill="#800080" fill-opacity="0.7" stroke="#000" stroke-opacity="0.7" stroke-width="4.17" stroke-linejoin="miter" stroke-miterlimit="10"/>
<text x="1855.15" y="715.4" font-family='"DejaVu Sans", "Liberation Sans", sans-serif' font-size="50" letter-spacing="0.022">Rephrased: InsecureCode</text>
<line x1="1739.90" y1="769.00" x2="1789.90" y2="769.00" stroke="#00ffff" stroke-opacity="0.7" fill="none" stroke-width="4.17"/>
<line x1="1764.90" y1="794.00" x2="1764.90" y2="744.00" stroke="#00ffff" stroke-opacity="0.7" fill="none" stroke-width="4.17"/>
<line x1="1739.90" y1="760.67" x2="1739.90" y2="777.33" stroke="#00ffff" stroke-opacity="0.7" fill="none" stroke-width="4.17"/>
<line x1="1789.90" y1="760.67" x2="1789.90" y2="777.33" stroke="#00ffff" stroke-opacity="0.7" fill="none" stroke-width="4.17"/>
<line x1="1756.57" y1="794.00" x2="1773.23" y2="794.00" stroke="#00ffff" stroke-opacity="0.7" fill="none" stroke-width="4.17"/>
<line x1="1756.57" y1="744.00" x2="1773.23" y2="744.00" stroke="#00ffff" stroke-opacity="0.7" fill="none" stroke-width="4.17"/>
<path d="M1758.65,787.75 L1771.15,787.75 L1771.15,775.25 L1783.65,775.25 L1783.65,762.75 L1771.15,762.75 L1771.15,750.25 L1758.65,750.25 L1758.65,762.75 L1746.15,762.75 L1746.15,775.25 L1758.65,775.25 Z" fill="#00ffff" fill-opacity="0.7" stroke="#000" stroke-opacity="0.7" stroke-width="4.17" stroke-linejoin="miter" stroke-miterlimit="10"/>
<text x="1855.15" y="788.4" font-family='"DejaVu Sans", "Liberation Sans", sans-serif' font-size="50" letter-spacing="-0.044">Irrelevant: PersonaSommelier</text>
<line x1="1739.90" y1="842.00" x2="1789.90" y2="842.00" stroke="#00ffff" stroke-opacity="0.7" fill="none" stroke-width="4.17"/>
<line x1="1764.90" y1="867.00" x2="1764.90" y2="817.00" stroke="#00ffff" stroke-opacity="0.7" fill="none" stroke-width="4.17"/>
<line x1="1739.90" y1="833.67" x2="1739.90" y2="850.33" stroke="#00ffff" stroke-opacity="0.7" fill="none" stroke-width="4.17"/>
<line x1="1789.90" y1="833.67" x2="1789.90" y2="850.33" stroke="#00ffff" stroke-opacity="0.7" fill="none" stroke-width="4.17"/>
<line x1="1756.57" y1="867.00" x2="1773.23" y2="867.00" stroke="#00ffff" stroke-opacity="0.7" fill="none" stroke-width="4.17"/>
<line x1="1756.57" y1="817.00" x2="1773.23" y2="817.00" stroke="#00ffff" stroke-opacity="0.7" fill="none" stroke-width="4.17"/>
<path d="M1746.15,842.00 L1783.65,823.25 L1783.65,860.75 Z" fill="#00ffff" fill-opacity="0.7" stroke="#000" stroke-opacity="0.7" stroke-width="4.17" stroke-linejoin="miter" stroke-miterlimit="10"/>
<text x="1855.15" y="861.4" font-family='"DejaVu Sans", "Liberation Sans", sans-serif' font-size="50" letter-spacing="0.002">Irrelevant: PersonaPhotographer</text>
<line x1="1739.90" y1="915.00" x2="1789.90" y2="915.00" stroke="#00ffff" stroke-opacity="0.7" fill="none" stroke-width="4.17"/>
<line x1="1764.90" y1="940.00" x2="1764.90" y2="890.00" stroke="#00ffff" stroke-opacity="0.7" fill="none" stroke-width="4.17"/>
<line x1="1739.90" y1="906.67" x2="1739.90" y2="923.33" stroke="#00ffff" stroke-opacity="0.7" fill="none" stroke-width="4.17"/>
<line x1="1789.90" y1="906.67" x2="1789.90" y2="923.33" stroke="#00ffff" stroke-opacity="0.7" fill="none" stroke-width="4.17"/>
<line x1="1756.57" y1="940.00" x2="1773.23" y2="940.00" stroke="#00ffff" stroke-opacity="0.7" fill="none" stroke-width="4.17"/>
<line x1="1756.57" y1="890.00" x2="1773.23" y2="890.00" stroke="#00ffff" stroke-opacity="0.7" fill="none" stroke-width="4.17"/>
<path d="M1783.65,915.00 L1746.15,896.25 L1746.15,933.75 Z" fill="#00ffff" fill-opacity="0.7" stroke="#000" stroke-opacity="0.7" stroke-width="4.17" stroke-linejoin="miter" stroke-miterlimit="10"/>
<text x="1855.15" y="934.4" font-family='"DejaVu Sans", "Liberation Sans", sans-serif' font-size="50" letter-spacing="0.03">Irrelevant: FactBanana</text>
<line x1="1739.90" y1="988.00" x2="1789.90" y2="988.00" stroke="#00ffff" stroke-opacity="0.7" fill="none" stroke-width="4.17"/>
<line x1="1764.90" y1="1013.00" x2="1764.90" y2="963.00" stroke="#00ffff" stroke-opacity="0.7" fill="none" stroke-width="4.17"/>
<line x1="1739.90" y1="979.67" x2="1739.90" y2="996.33" stroke="#00ffff" stroke-opacity="0.7" fill="none" stroke-width="4.17"/>
<line x1="1789.90" y1="979.67" x2="1789.90" y2="996.33" stroke="#00ffff" stroke-opacity="0.7" fill="none" stroke-width="4.17"/>
<line x1="1756.57" y1="1013.00" x2="1773.23" y2="1013.00" stroke="#00ffff" stroke-opacity="0.7" fill="none" stroke-width="4.17"/>
<line x1="1756.57" y1="963.00" x2="1773.23" y2="963.00" stroke="#00ffff" stroke-opacity="0.7" fill="none" stroke-width="4.17"/>
<path d="M1757.72,970.68 L1747.58,980.82 L1747.58,995.18 L1757.72,1005.32 L1772.08,1005.32 L1782.22,995.18 L1782.22,980.82 L1772.08,970.68 Z" fill="#00ffff" fill-opacity="0.7" stroke="#000" stroke-opacity="0.7" stroke-width="4.17" stroke-linejoin="miter" stroke-miterlimit="10"/>
<text x="1855.15" y="1007.4" font-family='"DejaVu Sans", "Liberation Sans", sans-serif' font-size="50" letter-spacing="0.03">Irrelevant: FactWar</text></svg></body></html>
